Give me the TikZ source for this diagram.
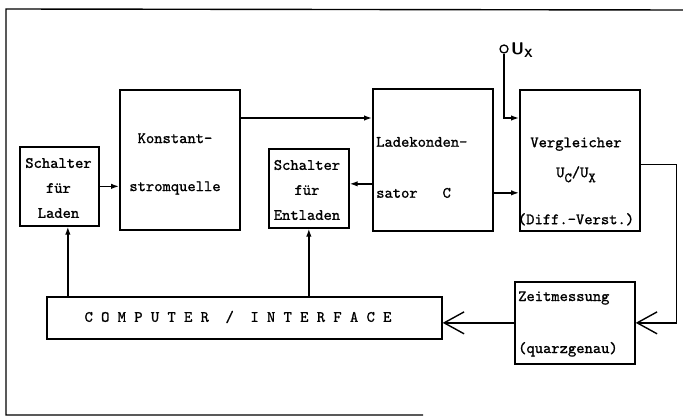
\documentclass[tikz,border=0pt]{standalone}
\usepackage{fontspec}
\usepackage{tikz}
\usetikzlibrary{positioning, arrows.meta}

\newfontfamily\typew{lmmono10-regular.otf}[FakeBold=1.2]

\tikzset{
  block/.style={draw, line width=1.7pt, inner sep=0pt, anchor=north west},
  txt/.style={font=\fontsize{15.8}{25}\selectfont\typew, inner sep=0pt},
  fl/.style={-{Latex[length=8pt,width=5.5pt]}, line width=1.4pt},
  ob/.style={-{Straight Barb[length=20pt,width=22pt]}, line width=1.4pt},
}
\newcommand{\lowsub}[1]{\raisebox{-5pt}{\fontsize{14}{14}\selectfont#1}}

\begin{document}
\begin{tikzpicture}[x=1pt, y=-1pt]
  \useasboundingbox (0,0) rectangle (683,417);
  % outer frame
  \draw[line width=1.4pt] (683,10) -- (6,9) -- (6,415) -- (423,415);

  % blocks
  \node[block, minimum width=79, minimum height=79] (laden) at (19,146) {};
  \node[block, minimum width=120, minimum height=140] (konst) at (119,89) {};
  \node[block, minimum width=80, minimum height=79] (entladen) at (268,148) {};
  \node[block, minimum width=120, minimum height=142] (ladek) at (372,88) {};
  \node[block, minimum width=120, minimum height=141] (vergl) at (519,89) {};
  \node[block, minimum width=120, minimum height=82] (zeit) at (514,281) {};
  \node[block, minimum width=395, minimum height=42] (comp) at (46,296) {};

  % texts
  \node[txt, align=center] (ladenT) at (58.5,188) {Schalter\\für\\Laden};
  \node[txt, align=center] (konstT) at (175,164) {Konstant-\\[23pt]stromquelle};
  \node[txt, align=center] (entladenT) at (307,190) {Schalter\\für\\Entladen};
  \node[txt, align=left, anchor=west] (ladekT) at (376,167.5) {Ladekonden-\\[26pt]sator~~~C};
  \node[txt, align=center] (verglT) at (576,181.5)
    {Vergleicher\\[5pt]U\lowsub{C}/U\lowsub{X}\\[22pt](Diff.-Verst.)};
  \node[txt, align=left, anchor=west] (zeitT) at (518,324) {Zeitmessung\\[27pt](quarzgenau)};
  \node[txt] (compT) at (238,317) {C~O~M~P~U~T~E~R~~/~~I~N~T~E~R~F~A~C~E};

  % input U_X
  \node[draw, circle, line width=1.3pt, minimum size=8pt, inner sep=0pt] (ux) at (504,49) {};
  \node[anchor=west, inner sep=0pt, font=\sffamily\bfseries\fontsize{17}{20}\selectfont] (uxT) at (511,50)
    {U\textsubscript{X}};

  % connections
  \path ([xshift=8.5pt]laden.south) coordinate (ls);
  \draw[fl] (laden.east) -- (laden.east -| konst.west);
  \draw[fl] ([yshift=-29pt]konst.north east) -- ([yshift=-29pt]konst.north east -| ladek.west);
  \draw[fl] ([yshift=-24pt]ladek.west) -- ([yshift=-24pt]ladek.west -| entladen.east);
  \draw[fl] ([yshift=-33pt]ladek.east) -- ([yshift=-33pt]ladek.east -| vergl.west);
  \draw[fl] (ux.south) |- ([yshift=-29pt]vergl.north west);
  \draw[ob] ([yshift=-4pt]vergl.east) -- ++(36,0) |- (zeit.east);
  \draw[ob] (zeit.west) -- (zeit.west -| comp.east);
  \draw[fl] (comp.north -| ls) -- (ls);
  \draw[fl] (comp.north -| entladen.south) -- (entladen.south);
\end{tikzpicture}
\end{document}
